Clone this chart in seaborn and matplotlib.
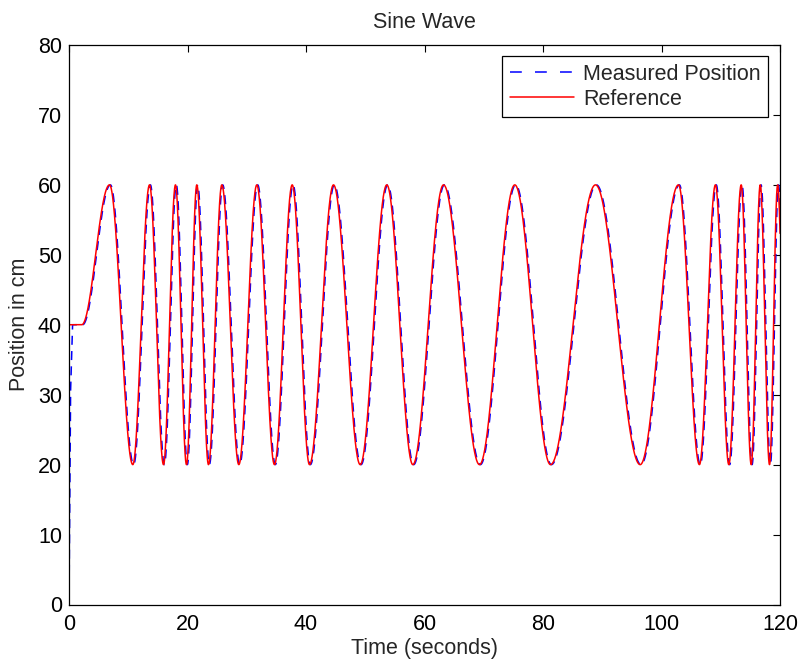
import numpy as np
import pandas as pd
import matplotlib
matplotlib.use("Agg")
import matplotlib.pyplot as plt
import seaborn as sns

# ---- data ----
# times (s) of the reference signal's turning points and their values (cm)
ref_ext_t = [0.0, 2.15, 6.84, 10.77, 13.59, 15.95, 17.97, 19.83, 21.57, 23.54,
             25.79, 28.66, 31.70, 34.68, 37.67, 40.59, 44.64, 49.15, 53.64,
             58.03, 63.21, 69.28, 75.24, 81.27, 88.86, 96.40, 102.87, 106.40,
             109.10, 111.36, 113.45, 115.14, 116.66, 118.23, 119.60, 121.10]
ref_ext_v = [40, 40, 60, 20, 60, 20, 60, 20, 60, 20,
             60, 20, 60, 20, 60, 20, 60, 20, 60,
             20, 60, 20, 60, 20, 60, 20, 60, 20,
             60, 20, 60, 20, 60, 20, 60, 20]
# measured position: start-up from 0 and small lag behind the reference
meas_start_t = [0.0, 0.25, 0.6]
meas_start_v = [0, 30, 40]
meas_lag = 0.15

x_ticks = [0, 20, 40, 60, 80, 100, 120]
y_ticks = [0, 10, 20, 30, 40, 50, 60, 70, 80]


def smooth_between(t, kt, kv):
    kt = np.asarray(kt, float)
    kv = np.asarray(kv, float)
    idx = np.clip(np.searchsorted(kt, t, side="right") - 1, 0, len(kt) - 2)
    t0, t1 = kt[idx], kt[idx + 1]
    v0, v1 = kv[idx], kv[idx + 1]
    s = np.clip((t - t0) / (t1 - t0), 0, 1)
    return v0 + (v1 - v0) * (1 - np.cos(np.pi * s)) / 2


t = np.linspace(0, 121.1, 8000)
ref = smooth_between(t, ref_ext_t, ref_ext_v)
meas = smooth_between(t - meas_lag, ref_ext_t, ref_ext_v)
early = t <= meas_start_t[-1]
meas[early] = np.interp(t[early], meas_start_t, meas_start_v)

df_meas = pd.DataFrame({"Time": t, "Position": meas})
df_ref = pd.DataFrame({"Time": t, "Position": ref})

# ---- style ----
sns.set_style("white")
plt.rcParams["font.family"] = ["Liberation Sans", "DejaVu Sans"]
plt.rcParams["lines.scale_dashes"] = False
FS = 15.5

fig = plt.figure(figsize=(8.01, 6.61), dpi=100)
ax = fig.add_axes([69 / 801, 1 - 604.5 / 661, 711 / 801, 559.5 / 661])

sns.lineplot(data=df_meas, x="Time", y="Position", ax=ax, color=(0, 0, 1),
             linewidth=1.1, label="Measured Position", estimator=None, sort=False)
ax.lines[-1].set_dashes((6.5, 4.5))
sns.lineplot(data=df_ref, x="Time", y="Position", ax=ax, color=(1, 0, 0),
             linewidth=1.1, label="Reference", estimator=None, sort=False)

ax.set_xlim(0, 120)
ax.set_ylim(0, 80)
ax.set_xticks(x_ticks)
ax.set_yticks(y_ticks)
ax.tick_params(direction="in", top=True, right=True, length=5, width=0.8,
               labelsize=FS, color="black", labelcolor="black")
ax.tick_params(axis="y", pad=5)
ax.tick_params(axis="x", pad=7)
for sp in ax.spines.values():
    sp.set_color("black")
    sp.set_linewidth(0.9)

ax.set_title("Sine Wave", fontsize=FS, pad=12)
ax.set_xlabel("Time (seconds)", fontsize=FS, labelpad=2)
ax.set_ylabel("Position in cm", fontsize=FS, labelpad=6)

leg = ax.legend(loc="upper right", bbox_to_anchor=(0.9835, 0.9803),
                fontsize=FS, frameon=True, fancybox=False,
                edgecolor="black", framealpha=1, borderpad=0.35,
                handlelength=3.0, handletextpad=0.4, labelspacing=0.2,
                borderaxespad=0.0)
leg.get_frame().set_linewidth(0.9)
leg.get_lines()[0].set_dashes((8.5, 9.5))

fig.savefig("out.png", dpi=100)
